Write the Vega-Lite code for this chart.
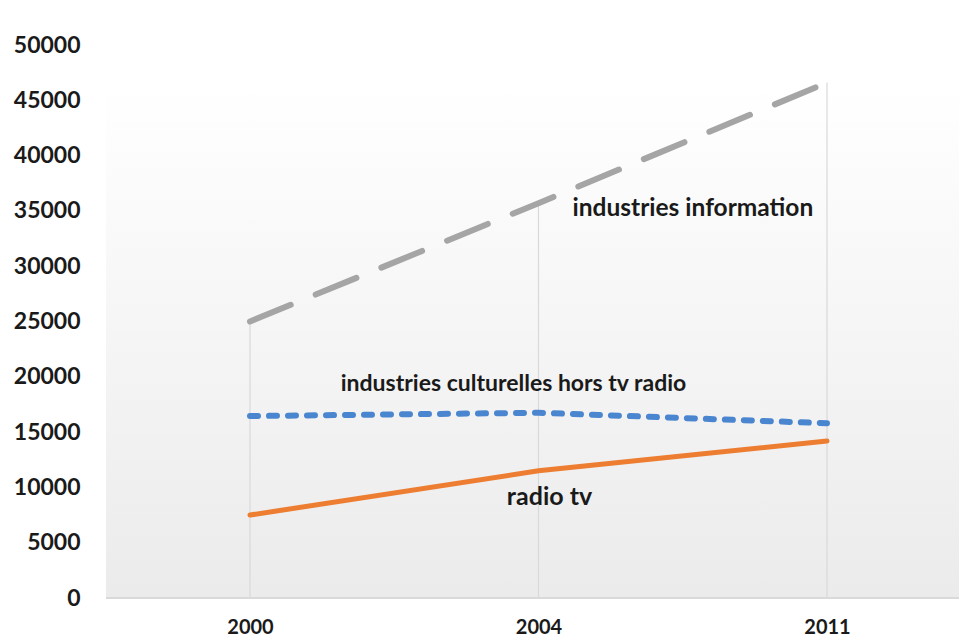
{
  "$schema": "https://vega.github.io/schema/vega-lite/v6.json",
  "width": 853,
  "height": 553,
  "autosize": "none",
  "padding": {"left": 106, "top": 45, "right": 0, "bottom": 40},
  "background": "white",
  "config": {
    "view": {
      "stroke": null,
      "fill": {"gradient": "linear", "x1": 0, "y1": 0, "x2": 0, "y2": 1,
        "stops": [{"offset": 0, "color": "#ffffff"}, {"offset": 0.07, "color": "#ffffff"}, {"offset": 1, "color": "#ebebeb"}]}
    }
  },
  "datasets": {
    "series": [
      {"year": "2000", "series": "industries information", "value": 25000},
      {"year": "2004", "series": "industries information", "value": 35700},
      {"year": "2011", "series": "industries information", "value": 46600},
      {"year": "2000", "series": "industries culturelles hors tv radio", "value": 16450},
      {"year": "2004", "series": "industries culturelles hors tv radio", "value": 16750},
      {"year": "2011", "series": "industries culturelles hors tv radio", "value": 15800},
      {"year": "2000", "series": "radio tv", "value": 7500},
      {"year": "2004", "series": "radio tv", "value": 11500},
      {"year": "2011", "series": "radio tv", "value": 14200}
    ],
    "labels": [
      {"year": "2004", "label": "industries information", "value": 35170},
      {"year": "2004", "label": "industries culturelles hors tv radio", "value": 19350},
      {"year": "2004", "label": "radio tv", "value": 9130}
    ]
  },
  "encoding": {
    "x": {
      "field": "year", "type": "ordinal", "sort": ["2000", "2004", "2011"],
      "scale": {"type": "point", "range": [144, 721], "padding": 0},
      "axis": {
        "title": null, "ticks": false, "domain": false,
        "labelFont": "Lato", "labelFontWeight": "bold", "labelFontSize": 20, "labelColor": "#1a1a1a",
        "labelPadding": 19, "labelAngle": 0
      }
    },
    "y": {
      "field": "value", "type": "quantitative",
      "scale": {"domain": [0, 50000], "nice": false},
      "axis": {
        "title": null, "ticks": false, "domain": false, "grid": false, "labelOverlap": false,
        "values": [0, 5000, 10000, 15000, 20000, 25000, 30000, 35000, 40000, 45000, 50000],
        "format": "d", "labelFont": "Lato", "labelFontWeight": "bold", "labelFontSize": 23,
        "labelColor": "#1a1a1a", "labelPadding": 26
      }
    }
  },
  "layer": [
    {
      "data": {"name": "series"},
      "transform": [{"filter": "datum.series === 'industries information'"}],
      "mark": {"type": "rule", "color": "#d9d9d9", "strokeWidth": 1.2},
      "encoding": {"y": {"datum": 0}, "y2": {"field": "value"}}
    },
    {
      "data": {"name": "series"},
      "transform": [{"filter": "datum.series === 'radio tv' && datum.year === '2000'"}],
      "mark": {"type": "rule", "color": "#d9d9d9", "strokeWidth": 2},
      "encoding": {"x": null, "y": {"datum": 0}}
    },
    {
      "data": {"name": "series"},
      "transform": [{"filter": "datum.series === 'industries information'"}],
      "mark": {"type": "line", "color": "#a5a5a5", "strokeWidth": 6, "strokeDash": [44, 27], "strokeCap": "round"},
      "encoding": {}
    },
    {
      "data": {"name": "series"},
      "transform": [{"filter": "datum.series === 'industries culturelles hors tv radio'"}],
      "mark": {"type": "line", "color": "#4a86d0", "strokeWidth": 6, "strokeDash": [8, 11], "strokeCap": "round"},
      "encoding": {}
    },
    {
      "data": {"name": "series"},
      "transform": [{"filter": "datum.series === 'radio tv'"}],
      "mark": {"type": "line", "color": "#ed7d31", "strokeWidth": 5, "strokeCap": "round"},
      "encoding": {}
    },
    {
      "data": {"name": "labels"},
      "transform": [{"filter": "datum.label === 'industries information'"}],
      "mark": {"type": "text", "align": "left", "baseline": "middle", "dx": 34, "font": "Lato", "fontWeight": "bold", "fontSize": 24.5, "color": "#1a1a1a"},
      "encoding": {"text": {"field": "label"}}
    },
    {
      "data": {"name": "labels"},
      "transform": [{"filter": "datum.label === 'industries culturelles hors tv radio'"}],
      "mark": {"type": "text", "align": "center", "baseline": "middle", "dx": -25, "font": "Lato", "fontWeight": "bold", "fontSize": 23, "color": "#1a1a1a"},
      "encoding": {"text": {"field": "label"}}
    },
    {
      "data": {"name": "labels"},
      "transform": [{"filter": "datum.label === 'radio tv'"}],
      "mark": {"type": "text", "align": "center", "baseline": "middle", "dx": 11, "font": "Lato", "fontWeight": "bold", "fontSize": 25, "color": "#1a1a1a"},
      "encoding": {"text": {"field": "label"}}
    }
  ]
}
